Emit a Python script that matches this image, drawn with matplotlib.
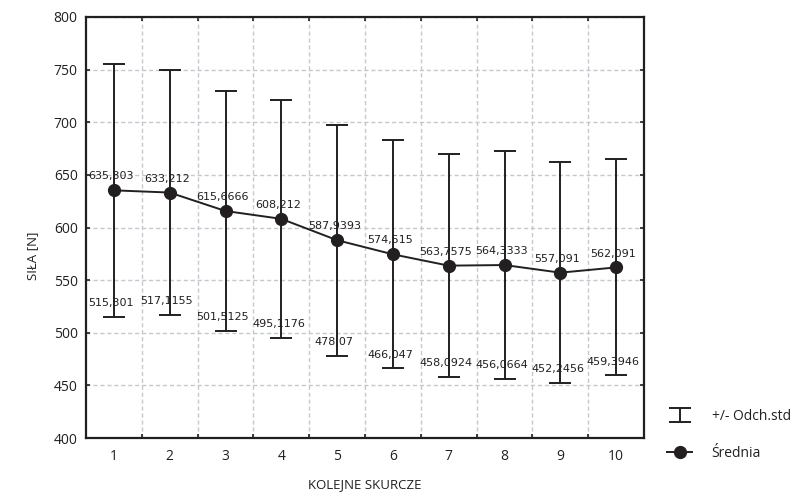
import matplotlib
matplotlib.use("Agg")
import matplotlib.pyplot as plt
import numpy as np

plt.rcParams['font.family'] = ['Open Sans', 'DejaVu Sans']

skurcze = [1, 2, 3, 4, 5, 6, 7, 8, 9, 10]
srednia = [635.303, 633.212, 615.6666, 608.212, 587.9393, 574.515, 563.7575, 564.3333, 557.091, 562.091]
dolna = [515.301, 517.1155, 501.5125, 495.1176, 478.07, 466.047, 458.0924, 456.0664, 452.2456, 459.3946]
etykiety_sr = ["635,303", "633,212", "615,6666", "608,212", "587,9393", "574,515", "563,7575", "564,3333", "557,091", "562,091"]
etykiety_dol = ["515,301", "517,1155", "501,5125", "495,1176", "478,07", "466,047", "458,0924", "456,0664", "452,2456", "459,3946"]
yticks = [400, 450, 500, 550, 600, 650, 700, 750, 800]

x = np.array(skurcze)
m = np.array(srednia)
lo = np.array(dolna)
sd = m - lo

dark = '#231f20'
fig = plt.figure(figsize=(7.98, 4.92), dpi=100)
ax = fig.add_axes([86/798, 1-438/492, (644-86)/798, (438-17)/492])

eb = ax.errorbar(x, m, yerr=[sd, sd], fmt='none', ecolor=dark, elinewidth=1.4,
                 capsize=8, capthick=1.4, label='+/- Odch.std', zorder=3)
ln, = ax.plot(x, m, '-o', color=dark, lw=1.4, markersize=8.5, label='Średnia', zorder=4)

lab_font = dict(fontsize=8, color=dark, family=['DejaVu Sans'])
for xi, yi, t in zip(x, m, etykiety_sr):
    ax.annotate(t, (xi, yi), xytext=(-2, 10), textcoords='offset points',
                ha='center', va='center', zorder=5, **lab_font)
for xi, yi, t in zip(x, lo, etykiety_dol):
    ax.annotate(t, (xi, yi), xytext=(-2, 10), textcoords='offset points',
                ha='center', va='center', zorder=5, **lab_font)

ax.set_xlim(0.5, 10.5)
ax.set_ylim(400, 800)
ax.set_yticks(yticks)
ax.set_xticks(np.arange(1.5, 10.5, 1.0))
ax.set_xticklabels([])
ax.set_xticks(x, minor=True)
ax.set_xticklabels([str(s) for s in skurcze], minor=True)
ax.tick_params(axis='x', which='minor', length=0, pad=8, labelsize=10, colors=dark)
ax.tick_params(axis='x', which='major', direction='in', length=3, width=1.2, top=True, color=dark)
ax.tick_params(axis='y', direction='in', length=3, width=1.2, right=True, labelsize=10,
               pad=6, colors=dark)
ax.grid(True, which='major', color='#c5c8ce', linestyle=(0, (3, 2)), linewidth=1.0)
for s in ax.spines.values():
    s.set_linewidth(1.6)
    s.set_color(dark)

ax.set_xlabel('KOLEJNE SKURCZE', fontsize=9.5, color=dark, labelpad=10)
ax.set_ylabel('SIŁA [N]', fontsize=9.5, color=dark)
ax.yaxis.set_label_coords(-0.084, 0.433)

leg = fig.legend([eb, ln], ['+/- Odch.std', 'Średnia'], loc='upper left',
                 bbox_to_anchor=(663/798, 1-405/492), frameon=False,
                 fontsize=10, handlelength=1.8, labelspacing=1.55, handletextpad=1.4,
                 borderaxespad=0, borderpad=0.3)
for t in leg.get_texts():
    t.set_color(dark)

fig.savefig('out.png', dpi=100)
